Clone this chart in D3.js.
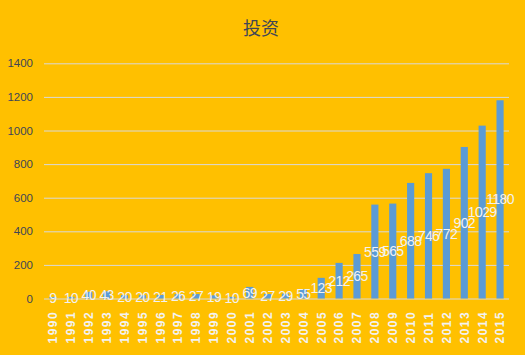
<!DOCTYPE html>
<html><head><meta charset="utf-8">
<script src="https://cdn.jsdelivr.net/npm/d3@7"></script>
<style>html,body{margin:0;padding:0;background:#FFC000;}svg{display:block;}</style>
</head><body>
<script>
const title = "投资";
const years = ["1990","1991","1992","1993","1994","1995","1996","1997","1998","1999","2000","2001","2002","2003","2004","2005","2006","2007","2008","2009","2010","2011","2012","2013","2014","2015"];
const values = [9,10,40,43,20,20,21,26,27,19,10,69,27,29,55,123,212,265,559,565,688,746,772,902,1029,1180];
const yTicks = [0,200,400,600,800,1000,1200,1400];

const W = 525, H = 355;
const svg = d3.select("body").append("svg").attr("width", W).attr("height", H);
svg.append("rect").attr("width", W).attr("height", H).attr("fill", "#FFC000");

const x = d3.scaleBand().domain(years).range([44, 509]).paddingInner(0.6).paddingOuter(0.3);
const y = d3.scaleLinear().domain([0, 1400]).range([298.5, 63.3]);

svg.append("text").attr("x", 261).attr("y", 35).attr("text-anchor", "middle")
  .attr("font-family", "'Noto Sans CJK SC', sans-serif").attr("font-size", 18)
  .attr("fill", "#404656").text(title);

// gridlines
const yAxis = d3.axisLeft(y).tickValues(yTicks).tickSize(-(509 - 44)).tickFormat(d3.format("d"));
const gy = svg.append("g").attr("transform", "translate(44,0)").call(yAxis);
gy.select(".domain").remove();
gy.selectAll(".tick line").attr("stroke", "#D9D9D9").attr("stroke-width", 1);
gy.selectAll(".tick text").attr("x", -11).attr("font-family", "'Liberation Sans', Arial, sans-serif")
  .attr("font-size", 11.5).attr("fill", "#404656");

// bars
svg.append("g").selectAll("rect").data(values).join("rect")
  .attr("x", (d, i) => x(years[i]))
  .attr("width", x.bandwidth())
  .attr("y", d => y(d))
  .attr("height", d => y(0) - y(d))
  .attr("fill", "#5B9BD5");

// x axis
const xAxis = d3.axisBottom(x).tickSize(0);
const gx = svg.append("g").attr("transform", `translate(0,${y(0)})`).call(xAxis);
gx.select(".domain").remove();
gx.selectAll(".tick text")
  .attr("transform", "rotate(-90)")
  .attr("x", -45).attr("y", 0).attr("dy", "0.36em")
  .attr("text-anchor", "start")
  .attr("font-family", "'Liberation Sans', Arial, sans-serif")
  .attr("font-weight", "bold").attr("font-size", 12)
  .attr("letter-spacing", 1.5)
  .attr("fill", "#F2F2F2");

// data labels
svg.append("g").selectAll("text").data(values).join("text")
  .attr("x", (d, i) => x(years[i]) + x.bandwidth() / 2)
  .attr("y", d => (y(d) + y(0)) / 2)
  .attr("dy", "0.36em")
  .attr("text-anchor", "middle")
  .attr("font-family", "'Liberation Sans', Arial, sans-serif")
  .attr("font-size", 14)
  .attr("letter-spacing", -0.6)
  .attr("fill", "#F2F2F2")
  .text(d => d);
</script>
</body></html>
